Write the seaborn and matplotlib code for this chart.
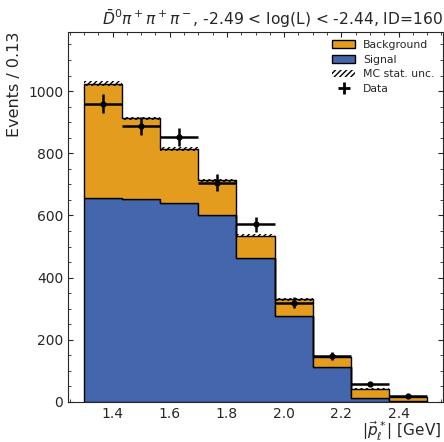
import numpy as np
import pandas as pd
import matplotlib
matplotlib.use("Agg")
import matplotlib.pyplot as plt
import seaborn as sns
from matplotlib.patches import Patch
from matplotlib.lines import Line2D
from matplotlib.ticker import MultipleLocator

edges = [1.3, 1.4333, 1.5667, 1.7, 1.8333, 1.9667, 2.1, 2.2333, 2.3667, 2.5]
signal = [656, 652, 639, 600, 462, 276, 112, 14, 3]
background = [368, 260, 174, 113, 73, 54, 34, 29, 12]
data_counts = [960, 888, 853, 706, 572, 320, 148, 58, 18]
mc_unc = [7, 6, 6, 5, 5, 4, 3, 2, 1]

title = r"$\bar{D}^0\pi^+\pi^+\pi^-$, -2.49 < log(L) < -2.44, ID=160"
xlabel = r"$|\vec{p}_\ell^*|$ [GeV]"
ylabel = "Events / 0.13"

c_bkg = "#E39C1E"
c_sig = "#4466AC"

sns.set_style("ticks")
plt.rcParams.update({
    "xtick.direction": "in", "ytick.direction": "in",
    "xtick.top": True, "ytick.right": True,
    "xtick.minor.visible": True, "ytick.minor.visible": True,
    "hatch.linewidth": 1.0,
})
plt.rcParams["font.family"] = ["DejaVu Sans"]

edges_a = np.array(edges)
centers = 0.5 * (edges_a[:-1] + edges_a[1:])
widths = np.diff(edges_a)

df = pd.DataFrame({
    "x": np.concatenate([centers, centers]),
    "w": np.concatenate([background, signal]).astype(float),
    "comp": ["Background"] * len(centers) + ["Signal"] * len(centers),
})

fig = plt.figure(figsize=(4.44, 4.42), dpi=100)
ax = fig.add_axes([0.153, 0.0905, 0.845, 0.837])

sns.histplot(data=df, x="x", weights="w", hue="comp", bins=list(edges),
             multiple="stack", element="step", fill=True, alpha=1,
             hue_order=["Background", "Signal"],
             palette={"Background": c_bkg, "Signal": c_sig},
             edgecolor="black", linewidth=1.0, legend=False, ax=ax)

total = np.array(signal) + np.array(background)
unc = np.array(mc_unc)
ax.bar(centers, 2 * unc, bottom=total - unc, width=widths, fill=False,
       hatch="//////", edgecolor="black", linewidth=0)

d = np.array(data_counts)
ax.errorbar(centers, d, xerr=widths / 2, yerr=np.sqrt(d), fmt="o",
            color="black", markersize=3.5, elinewidth=1.8, capsize=0)

ax.set_xlim(1.244, 2.556)
ax.set_ylim(0, 1190)
ax.set_xticks([1.4, 1.6, 1.8, 2.0, 2.2, 2.4])
ax.set_yticks([0, 200, 400, 600, 800, 1000])
ax.xaxis.set_minor_locator(MultipleLocator(0.05))
ax.yaxis.set_minor_locator(MultipleLocator(50))
ax.tick_params(labelsize=10)
ax.set_title(title, loc="right", fontsize=11.2, pad=5)
ax.set_xlabel(xlabel, loc="right", fontsize=11)
ax.xaxis.set_label_coords(0.995, -0.048)
ax.set_ylabel(ylabel, loc="top", fontsize=11.5)

handles = [
    Patch(facecolor=c_bkg, edgecolor="black", label="Background"),
    Patch(facecolor=c_sig, edgecolor="black", label="Signal"),
    Patch(facecolor="none", edgecolor="black", hatch="//////", linewidth=0, label="MC stat. unc."),
    Line2D([0], [0], marker="+", color="black", linestyle="none", markersize=8, markeredgewidth=2, label="Data"),
]
ax.legend(handles=handles, loc="upper right", frameon=False, fontsize=7.8,
          handlelength=2.2, handletextpad=0.7, labelspacing=0.45,
          borderaxespad=0.3, bbox_to_anchor=(0.997, 1.0))

fig.savefig("out.png", dpi=100)
